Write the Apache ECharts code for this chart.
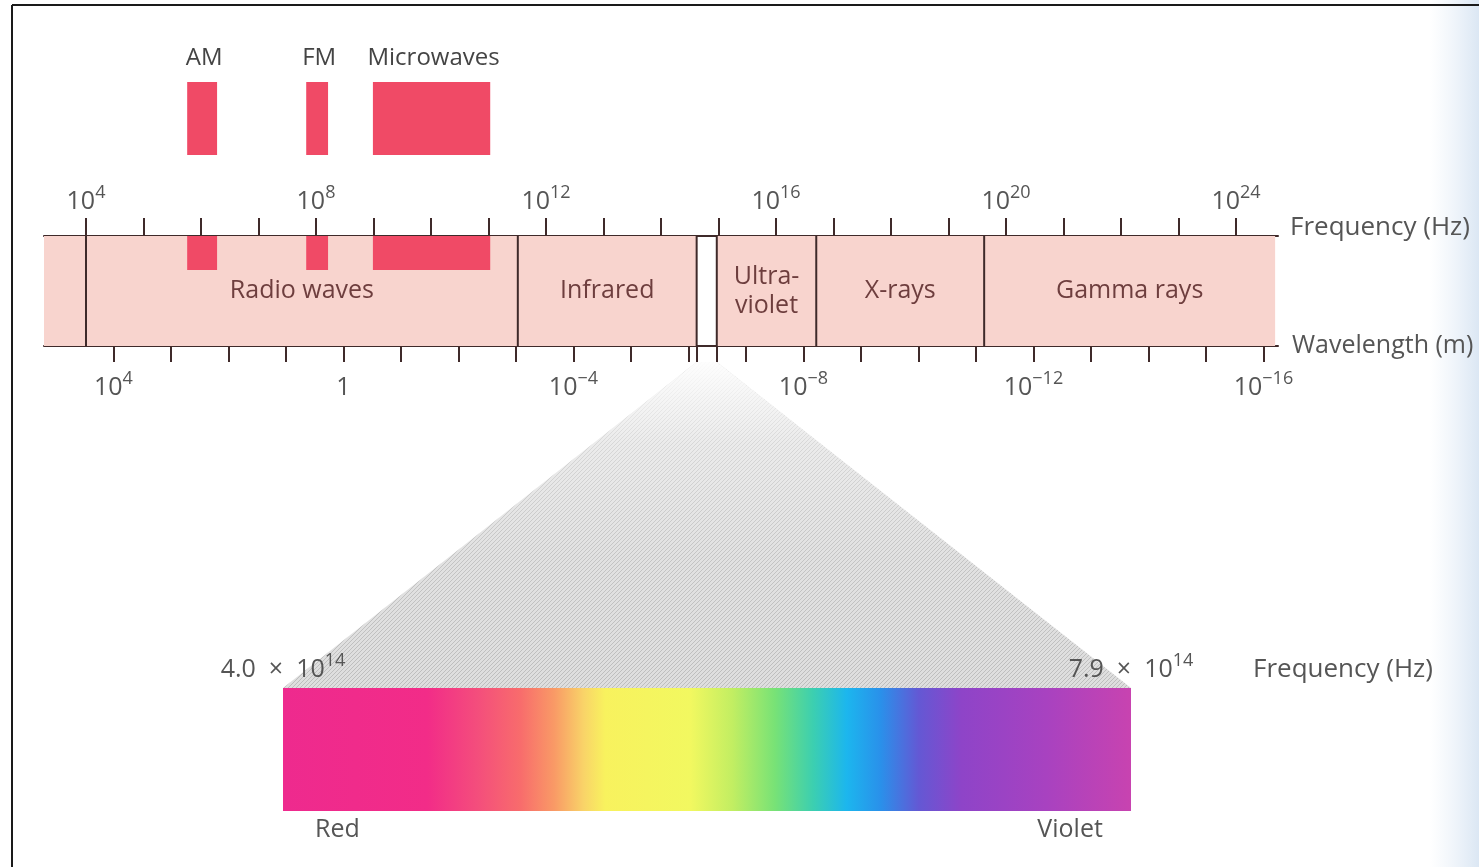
<!DOCTYPE html>
<html><head><meta charset="utf-8">
<script src="https://cdn.jsdelivr.net/npm/echarts@6/dist/echarts.min.js"></script>
<style>html,body{margin:0;padding:0;background:#fff;overflow:hidden}#c{width:1479px;height:867px}</style>
</head><body><div id="c"></div>
<script>
// ---------------- data (exponents are log10 values) ----------------
const freqMin = 3.27, freqMax = 24.73;                 // log10 Hz range of the scale
const freqTicks = [4,5,6,7,8,9,10,11,12,13,14,15,16,17,18,19,20,21,22,23,24];
const freqLabels = [4, 8, 12, 16, 20, 24];
const logC = 8.477;                                     // log10 speed of light (m/s)
const waveTicks = [4,3,2,1,0,-1,-2,-3,-4,-5,-6,-7,-8,-9,-10,-11,-12,-13,-14,-15,-16];
const waveLabels = [4, 0, -4, -8, -12, -16];
const bandNames = ['', 'Radio waves', 'Infrared', 'Ultra-\nviolet', 'X-rays', 'Gamma rays'];
const bandLo = [3.27, 4.0, 11.51, 14.97, 16.70, 19.62];
const bandHi = [4.0, 11.51, 14.62, 16.70, 19.62, 24.68];
const bandEdges = [4.0, 11.51, 14.62, 14.97, 16.70, 19.62];
const radioNames = ['AM', 'FM', 'Microwaves'];
const radioLo = [5.76, 7.83, 8.99];
const radioHi = [6.28, 8.21, 11.03];
const visibleFreq = [4.0e14, 7.9e14];                   // Hz
const colorNames = ['Red', 'Violet'];
const colorFreq = [4.25e14, 7.62e14];                   // Hz

// ---------------- styles ----------------
const FONT = '"Open Sans", "Noto Sans", sans-serif';
const LINE = '#3f2a2a';
const TXT = '#555555';
const BAND_TXT = '#6e3e3e';
const PINK = '#f8d4ce';
const RED = '#f04a66';
const rich = {
  b: {fontSize: 25, fontFamily: FONT, color: TXT, lineHeight: 30, verticalAlign: 'bottom'},
  s: {fontSize: 18, fontFamily: FONT, color: TXT, lineHeight: 24, verticalAlign: 'top'}
};
function pow10(e) {
  e = Math.round(e);
  if (e === 0) return '{b|1}';
  return '{b|10}{s|' + (e < 0 ? '\u2212' + (-e) : e) + '}';
}

const chart = echarts.init(document.getElementById('c'));
const gridBase = {containLabel: false, outerBoundsMode: 'none'};

const option = {
  animation: false,
  backgroundColor: '#fff',
  grid: [
    Object.assign({left: 44, right: 201, top: 236, height: 110}, gridBase),
    Object.assign({left: 44, right: 201, top: 82, height: 73}, gridBase),
    Object.assign({left: 283, right: 348, top: 688, height: 123}, gridBase)
  ],
  xAxis: [
    { // frequency
      gridIndex: 0, type: 'value', position: 'top', min: freqMin, max: freqMax,
      axisLine: {show: true, onZero: false, lineStyle: {color: LINE, width: 2}},
      axisTick: {show: true, customValues: freqTicks, length: 18, lineStyle: {color: LINE, width: 2}},
      axisLabel: {customValues: freqLabels, formatter: v => pow10(v), rich: rich, margin: 22, hideOverlap: false},
      splitLine: {show: false},
      name: 'Frequency (Hz)', nameLocation: 'end', nameGap: 12,
      nameTextStyle: {fontSize: 26, fontFamily: FONT, color: TXT, verticalAlign: 'bottom', lineHeight: 16}
    },
    { // wavelength
      gridIndex: 0, type: 'value', position: 'bottom', inverse: true,
      min: logC - freqMax, max: logC - freqMin,
      axisLine: {show: true, onZero: false, lineStyle: {color: LINE, width: 2}},
      axisTick: {show: true, customValues: waveTicks.concat([logC - bandHi[2], logC - bandLo[3]]), length: 16, lineStyle: {color: LINE, width: 2}},
      axisLabel: {customValues: waveLabels, formatter: v => pow10(v), rich: rich, margin: 24, hideOverlap: false},
      splitLine: {show: false},
      name: 'Wavelength (m)', nameLocation: 'start', nameGap: 14,
      nameTextStyle: {fontSize: 25, fontFamily: FONT, color: TXT}
    },
    {gridIndex: 1, type: 'value', min: freqMin, max: freqMax, show: false},
    { // visible frequency
      gridIndex: 2, type: 'value', position: 'top', min: visibleFreq[0], max: visibleFreq[1],
      axisLine: {show: false, onZero: false}, axisTick: {show: false}, splitLine: {show: false},
      axisLabel: {customValues: visibleFreq, margin: 6, rich: rich, hideOverlap: false,
        formatter: v => '{b|' + (v / 1e14).toFixed(1) + '  \u00d7  10}{s|14}'},
      name: 'Frequency (Hz)', nameLocation: 'end', nameGap: 122,
      nameTextStyle: {fontSize: 26, fontFamily: FONT, color: TXT, verticalAlign: 'bottom', lineHeight: 36}
    },
    {
      gridIndex: 2, type: 'value', position: 'bottom', min: visibleFreq[0], max: visibleFreq[1],
      axisLine: {show: false, onZero: false}, axisTick: {show: false}, splitLine: {show: false},
      axisLabel: {customValues: colorFreq, margin: 6, fontSize: 25, fontFamily: FONT, color: TXT, hideOverlap: false,
        formatter: v => colorNames[colorFreq.indexOf(v)] || ''}
    }
  ],
  yAxis: [
    {gridIndex: 0, type: 'value', min: 0, max: 1, show: false},
    {gridIndex: 1, type: 'value', min: 0, max: 1, show: false},
    {gridIndex: 2, type: 'value', min: 0, max: 1, show: false}
  ],
  series: [
    { // bands
      type: 'custom', xAxisIndex: 0, yAxisIndex: 0, z: 1,
      data: bandLo.map((lo, i) => [lo, bandHi[i]]),
      renderItem: (params, api) => {
        const a = api.coord([api.value(0), 1]), b = api.coord([api.value(1), 0]);
        return {type: 'group', children: [
          {type: 'rect', shape: {x: a[0], y: a[1], width: b[0] - a[0], height: b[1] - a[1]}, style: {fill: PINK}},
          {type: 'text', x: (a[0] + b[0]) / 2, y: (a[1] + b[1]) / 2,
            style: {text: bandNames[params.dataIndex], fill: BAND_TXT, font: '25px ' + FONT, align: 'center', verticalAlign: 'middle', lineHeight: 29}}
        ]};
      }
    },
    { // radio sub-bands inside the bar
      type: 'custom', xAxisIndex: 0, yAxisIndex: 0, z: 2,
      data: radioLo.map((lo, i) => [lo, radioHi[i]]),
      renderItem: (params, api) => {
        const a = api.coord([api.value(0), 1]), b = api.coord([api.value(1), 1 - 34 / 110]);
        return {type: 'rect', shape: {x: a[0], y: a[1], width: b[0] - a[0], height: b[1] - a[1]}, style: {fill: RED}};
      }
    },
    { // band boundaries
      type: 'custom', xAxisIndex: 0, yAxisIndex: 0, z: 3,
      data: bandEdges.map(v => [v]),
      renderItem: (params, api) => {
        const a = api.coord([api.value(0), 1]), b = api.coord([api.value(0), 0]);
        return {type: 'line', shape: {x1: a[0], y1: a[1], x2: b[0], y2: b[1]}, style: {stroke: LINE, lineWidth: 2}};
      }
    },
    { // radio sub-bands above
      type: 'custom', xAxisIndex: 2, yAxisIndex: 1,
      data: radioLo.map((lo, i) => [lo, radioHi[i]]),
      renderItem: (params, api) => {
        const a = api.coord([api.value(0), 1]), b = api.coord([api.value(1), 0]);
        return {type: 'group', children: [
          {type: 'rect', shape: {x: a[0], y: a[1], width: b[0] - a[0], height: b[1] - a[1]}, style: {fill: RED}},
          {type: 'text', x: (a[0] + b[0]) / 2 + 2, y: a[1] - 12,
            style: {text: radioNames[params.dataIndex], fill: '#444', font: '24px ' + FONT, align: 'center', verticalAlign: 'bottom'}}
        ]};
      }
    },
    { // visible spectrum
      type: 'custom', xAxisIndex: 3, yAxisIndex: 2,
      data: [[visibleFreq[0], visibleFreq[1]]],
      renderItem: (params, api) => {
        const a = api.coord([api.value(0), 1]), b = api.coord([api.value(1), 0]);
        return {type: 'rect', shape: {x: a[0], y: a[1], width: b[0] - a[0], height: b[1] - a[1]},
          style: {fill: new echarts.graphic.LinearGradient(0, 0, 1, 0, [
            {offset: 0, color: '#ee2a8e'}, {offset: 0.17, color: '#f22c88'}, {offset: 0.23, color: '#f44e7c'},
            {offset: 0.28, color: '#f86c6c'}, {offset: 0.32, color: '#f99a66'}, {offset: 0.355, color: '#f9d468'},
            {offset: 0.38, color: '#f8f25e'}, {offset: 0.48, color: '#f2f860'}, {offset: 0.53, color: '#c2ee62'},
            {offset: 0.58, color: '#78e276'}, {offset: 0.625, color: '#3ccfb0'}, {offset: 0.665, color: '#1cb6ee'},
            {offset: 0.705, color: '#2a90ea'}, {offset: 0.75, color: '#6458d4'}, {offset: 0.8, color: '#8e44c8'},
            {offset: 0.9, color: '#a842c0'}, {offset: 1, color: '#c843b0'}
          ])}};
      }
    }
  ]
};
chart.setOption(option);

// triangle linking the visible gap to the expanded spectrum
const gL = chart.convertToPixel({seriesIndex: 0}, [bandHi[2], 0]);
const gR = chart.convertToPixel({seriesIndex: 0}, [bandLo[3], 0]);
const vL = chart.convertToPixel({seriesIndex: 4}, [visibleFreq[0], 1]);
const vR = chart.convertToPixel({seriesIndex: 4}, [visibleFreq[1], 1]);
const pc = document.createElement('canvas'); pc.width = 4; pc.height = 4;
const cx = pc.getContext('2d');
cx.fillStyle = '#dedede'; cx.fillRect(0, 0, 4, 4);
cx.fillStyle = '#bdbdbd';
for (let i = 0; i < 4; i++) cx.fillRect(i, 3 - i, 1, 1);
const tri = [[gL[0], gL[1] + 16], [gR[0], gR[1] + 16], [vR[0], vR[1]], [vL[0], vL[1]]];
chart.setOption({
  graphic: [
    {type: 'polygon', z: 0, shape: {points: tri}, style: {fill: {image: pc, repeat: 'repeat'}}, silent: true},
    {type: 'polygon', z: 0, shape: {points: tri}, silent: true,
      style: {fill: {type: 'linear', x: 0, y: 0, x2: 0, y2: 1, colorStops: [
        {offset: 0, color: 'rgba(255,255,255,0.95)'}, {offset: 0.25, color: 'rgba(255,255,255,0.4)'},
        {offset: 0.6, color: 'rgba(255,255,255,0.1)'}, {offset: 1, color: 'rgba(255,255,255,0)'}]}}},
    {type: 'rect', z: 0, silent: true, shape: {x: 1430, y: 0, width: 49, height: 867},
      style: {fill: {type: 'linear', x: 0, y: 0, x2: 1, y2: 0, colorStops: [
        {offset: 0, color: 'rgba(225,235,246,0)'}, {offset: 1, color: 'rgba(215,228,242,0.9)'}]}}},
    {type: 'line', z: 5, silent: true, shape: {x1: 12, y1: 5, x2: 1479, y2: 5}, style: {stroke: '#1a1a1a', lineWidth: 2}},
    {type: 'line', z: 5, silent: true, shape: {x1: 12, y1: 5, x2: 12, y2: 867}, style: {stroke: '#1a1a1a', lineWidth: 2}}
  ]
});
</script></body></html>
